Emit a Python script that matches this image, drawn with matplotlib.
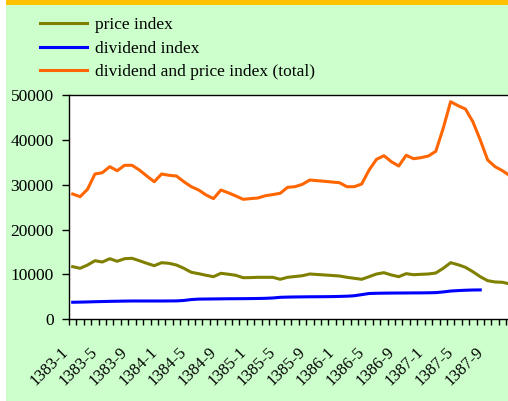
import matplotlib
matplotlib.use('Agg')
import matplotlib.pyplot as plt
from matplotlib.patches import Rectangle
from matplotlib.ticker import FixedLocator, NullLocator

# ---- data ----
months = [f'{y}-{m}' for y in range(1383, 1388) for m in range(1, 13)]
tick_labels = ['1383-1', '1383-5', '1383-9', '1384-1', '1384-5', '1384-9', '1385-1',
               '1385-5', '1385-9', '1386-1', '1386-5', '1386-9', '1387-1', '1387-5', '1387-9']

price_index = [11730, 11370, 12100, 13060, 12770, 13510, 12930, 13510, 13600, 13060,
               12480, 11950, 12620, 12480, 12100, 11370, 10480, 10170, 9810, 9500,
               10250, 10050, 9810, 9270, 9300, 9360, 9360, 9360, 8920, 9360,
               9540, 9720, 10100, 9990, 9880, 9770, 9650, 9360, 9140, 8920,
               9500, 10100, 10390, 9880, 9500, 10170, 9940, 10030, 10100, 10320,
               11370, 12620, 12170, 11590, 10610, 9500, 8610, 8320, 8250, 7870]

dividend_index = [3800, 3830, 3870, 3920, 3960, 4000, 4030, 4060, 4080, 4080,
                  4080, 4080, 4080, 4090, 4100, 4200, 4400, 4500, 4520, 4540,
                  4560, 4580, 4590, 4600, 4620, 4640, 4680, 4750, 4900, 4950,
                  4980, 5000, 5020, 5030, 5040, 5060, 5100, 5150, 5250, 5500,
                  5750, 5800, 5830, 5850, 5860, 5870, 5880, 5890, 5910, 5950,
                  6100, 6300, 6400, 6480, 6530, 6550]

total_index = [27930, 27330, 28980, 32390, 32680, 34020, 33120, 34330, 34330, 33280,
               31940, 30670, 32390, 32100, 31940, 30670, 29560, 28820, 27710, 26900,
               28820, 28200, 27500, 26750, 26900, 27040, 27550, 27800, 28090, 29420,
               29560, 30090, 31050, 30900, 30760, 30600, 30450, 29560, 29560, 30160,
               33280, 35660, 36470, 35130, 34170, 36560, 35800, 36030, 36400, 37450,
               42580, 48510, 47620, 46880, 44050, 39970, 35510, 34020, 33120, 32000]

plt.rcParams['font.family'] = ['Liberation Serif', 'DejaVu Serif']

W, H = 508, 401
fig = plt.figure(figsize=(W / 100, H / 100), dpi=100, facecolor='white')

# background bands: green panel and yellow strip on top
fig.patches.append(Rectangle((6 / W, 0), 1, 1 - 5 / H, transform=fig.transFigure,
                             facecolor='#ccffcc', edgecolor='none', zorder=-2))
fig.patches.append(Rectangle((6 / W, 1 - 5 / H), 1, 5 / H, transform=fig.transFigure,
                             facecolor='#ffc000', edgecolor='none', zorder=-2))

n = len(months)
step = 7.41
ax = fig.add_axes([69 / W, (H - 319.3) / H, n * step / W, 224.3 / H])
ax.set_zorder(1)
ax.set_facecolor('white')

x_all = list(range(n))
ax.plot(x_all, price_index, color='#808000', lw=2.2, label='price index')
ax.plot(x_all[:len(dividend_index)], dividend_index, color='#0000ff', lw=2.2,
        label='dividend index')
ax.plot(x_all, total_index, color='#ff6600', lw=2.2,
        label='dividend and price index (total)')

ax.set_xlim(-0.5, n - 0.5)
ax.set_ylim(0, 50000)
ax.set_yticks(range(0, 50001, 10000))
ax.tick_params(axis='y', direction='out', length=5, width=1, pad=6, labelsize=12.5)
ax.xaxis.set_major_locator(NullLocator())
ax.xaxis.set_minor_locator(FixedLocator([i - 0.5 for i in range(n + 1)]))
ax.tick_params(axis='x', which='minor', direction='out', length=4, width=1)
for s in ax.spines.values():
    s.set_color('black')
    s.set_linewidth(1)

# rotated category labels every 4 months
for lbl in tick_labels:
    i = months.index(lbl)
    ax.annotate(lbl, xy=(i, 0), xycoords=ax.get_xaxis_transform(),
                xytext=(-9, -18), textcoords='offset points', rotation=45,
                ha='right', va='top', rotation_mode='anchor', fontsize=12,
                annotation_clip=False)

fig.legend(loc='upper left', bbox_to_anchor=(40 / W, 1 - 17 / H), frameon=False,
           fontsize=12.5, handlelength=2.7, handletextpad=0.45, labelspacing=0.42,
           borderpad=0, borderaxespad=0)

fig.savefig('out.png', dpi=100)
